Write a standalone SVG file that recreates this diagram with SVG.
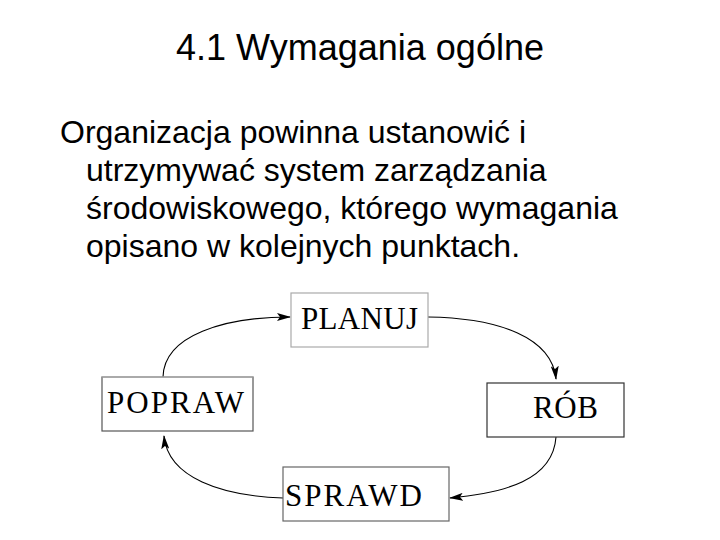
<svg xmlns="http://www.w3.org/2000/svg" width="720" height="540" viewBox="0 0 720 540">
  <style>
    .title { font-family: "Liberation Sans", Arial, sans-serif; font-size: 36px; fill: #000; }
    .body { font-family: "Liberation Sans", Arial, sans-serif; font-size: 32px; fill: #000; }
    .lbl { font-family: "Liberation Serif", "Times New Roman", serif; font-size: 31px; fill: #000; }
    .box { fill: #fff; stroke-width: 1.2; }
    .conn { fill: none; stroke: #000; stroke-width: 1.1; }
  </style>
  <defs>
    <marker id="arr" viewBox="0 0 14 8" refX="13" refY="4" markerWidth="14" markerHeight="8" markerUnits="userSpaceOnUse" orient="auto">
      <path d="M0,0 L14,4 L0,8 L3,4 z" fill="#000"/>
    </marker>
  </defs>
  <rect width="720" height="540" fill="#fff"/>

  <text class="title" x="360" y="60" text-anchor="middle">4.1 Wymagania ogólne</text>

  <g id="body-text">
    <text class="body" x="60" y="143">Organizacja powinna ustanowić i</text>
    <text class="body" x="86" y="181">utrzymywać system zarządzania</text>
    <text class="body" x="86" y="219">środowiskowego, którego wymagania</text>
    <text class="body" x="86" y="257">opisano w kolejnych punktach.</text>
  </g>

  <g id="connectors">
    <path class="conn" d="M163,377 C164,335 225,317 290,317" marker-end="url(#arr)"/>
    <path class="conn" d="M428,317 C500,318 552,338 556,379" marker-end="url(#arr)"/>
    <path class="conn" d="M556,437 C553,480 505,493 450,498" marker-end="url(#arr)"/>
    <path class="conn" d="M283,498 C222,496 168,478 164,436" marker-end="url(#arr)"/>
  </g>

  <g id="planuj">
    <rect class="box" x="291" y="293" width="137" height="54" stroke="#aaa"/>
    <text class="lbl" x="301" y="329" textLength="117" lengthAdjust="spacing">PLANUJ</text>
  </g>

  <g id="rob">
    <rect class="box" x="487" y="383" width="137" height="54" stroke="#333"/>
    <text class="lbl" x="533" y="418" textLength="65" lengthAdjust="spacing">RÓB</text>
  </g>

  <g id="sprawd">
    <rect class="box" x="283" y="467" width="166" height="54" stroke="#666"/>
    <text class="lbl" x="285" y="506" textLength="137" lengthAdjust="spacing">SPRAWD</text>
  </g>

  <g id="popraw">
    <rect class="box" x="102" y="377" width="151" height="54" stroke="#555"/>
    <line x1="102" y1="377" x2="253" y2="377" stroke="#bbb" stroke-width="1.2"/>
    <text class="lbl" x="107" y="413" textLength="137" lengthAdjust="spacing">POPRAW</text>
  </g>
</svg>
